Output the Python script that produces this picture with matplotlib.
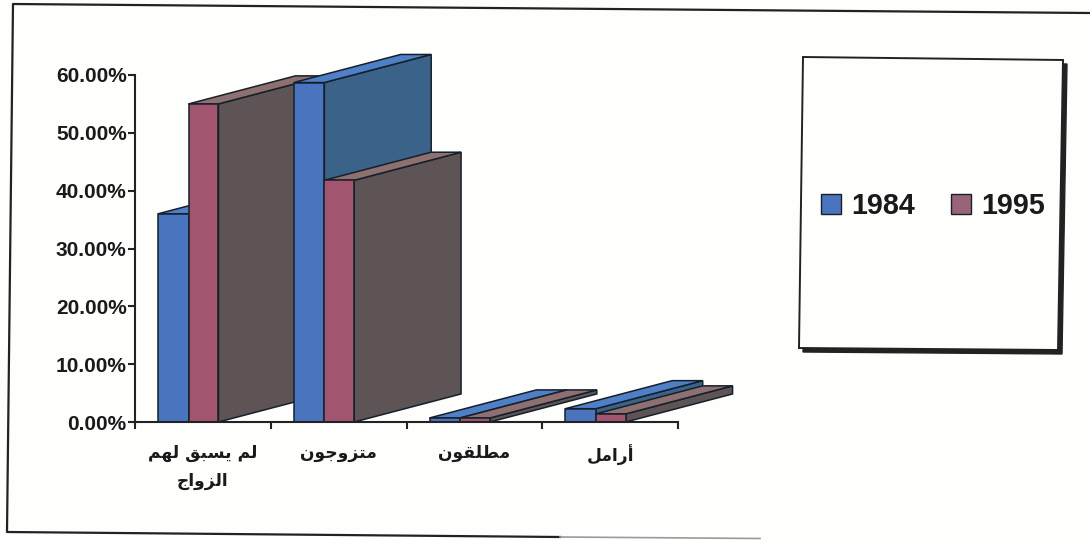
import matplotlib
matplotlib.use("Agg")
import matplotlib.pyplot as plt
from matplotlib.lines import Line2D
from matplotlib.patches import Patch, Polygon

categories = ["لم يسبق لهم\nالزواج", "متزوجون", "مطلقون", "أرامل"]
years = ["1984", "1995"]
values_1984 = [36.0, 58.7, 0.7, 2.3]
values_1995 = [55.0, 41.8, 0.7, 1.4]
y_ticks = [0, 10, 20, 30, 40, 50, 60]

W, H = 1090, 540

# (front, side, top) colours per series
colors_1984 = ("#4A74BE", "#3B6288", "#4F7FC6")
colors_1995 = ("#A2556F", "#5E5355", "#8E7070")

# isolated, final, initial, medial forms; matplotlib does no Arabic shaping
forms = {
    "ل": "\uFEDD\uFEDE\uFEDF\uFEE0", "م": "\uFEE1\uFEE2\uFEE3\uFEE4",
    "ي": "\uFEF1\uFEF2\uFEF3\uFEF4", "س": "\uFEB1\uFEB2\uFEB3\uFEB4",
    "ب": "\uFE8F\uFE90\uFE91\uFE92", "ق": "\uFED5\uFED6\uFED7\uFED8",
    "ه": "\uFEE9\uFEEA\uFEEB\uFEEC", "ج": "\uFE9D\uFE9E\uFE9F\uFEA0",
    "ت": "\uFE95\uFE96\uFE97\uFE98", "ن": "\uFEE5\uFEE6\uFEE7\uFEE8",
    "ط": "\uFEC1\uFEC2\uFEC3\uFEC4",
    "ز": "\uFEAF\uFEB0", "و": "\uFEED\uFEEE", "ا": "\uFE8D\uFE8E",
    "أ": "\uFE83\uFE84", "ر": "\uFEAD\uFEAE",
}


def shape_line(line):
    out = []
    for i, ch in enumerate(line):
        if ch not in forms:
            out.append(ch)
            continue
        before = i > 0 and line[i - 1] in forms and len(forms[line[i - 1]]) == 4
        after = i + 1 < len(line) and line[i + 1] in forms and len(forms[ch]) == 4
        idx = 3 if before and after else 1 if before else 2 if after else 0
        out.append(forms[ch][idx])
    return "".join(reversed(out))


def shape(text):
    return "\n".join(shape_line(s) for s in text.split("\n"))


def fig_xy(x, y):
    return x / W, 1 - y / H


def draw_bar(ax, x, width, value, cols):
    # depth of the fake 3D, in data units
    dx, dy = 0.787, 4.85
    side = [(x + width, 0), (x + width + dx, dy), (x + width + dx, value + dy), (x + width, value)]
    top = [(x, value), (x + dx, value + dy), (x + width + dx, value + dy), (x + width, value)]
    front = [(x, 0), (x, value), (x + width, value), (x + width, 0)]
    for pts, c in [(side, cols[1]), (top, cols[2]), (front, cols[0])]:
        ax.add_patch(Polygon(pts, closed=True, facecolor=c, edgecolor="#15202B",
                             linewidth=1.1, clip_on=False, zorder=3))


fig = plt.figure(figsize=(W / 100, H / 100), dpi=100, facecolor="#FEFEFD")

# outer frame, a bit skewed like the scan; bottom line fades out towards the right
frame = [(1090, 13), (13, 4), (7, 532), (560, 537)]
fx, fy = zip(*[fig_xy(*p) for p in frame])
fig.add_artist(Line2D(fx, fy, color="#222222", linewidth=1.6))
fade = [(560, 537), (760, 538.5)]
fx, fy = zip(*[fig_xy(*p) for p in fade])
fig.add_artist(Line2D(fx, fy, color="#9A9A9A", linewidth=1.2))

ax = fig.add_axes([135 / W, 1 - 422 / H, (678 - 135) / W, (422 - 75) / H])
ax.set_facecolor("none")
ax.set_xlim(0, 4)
ax.set_ylim(0, 60)

for i in range(len(categories)):
    draw_bar(ax, i + 0.17, 0.225, values_1984[i], colors_1984)
    draw_bar(ax, i + 0.395, 0.22, values_1995[i], colors_1995)

for s in ("top", "right"):
    ax.spines[s].set_visible(False)
for s in ("left", "bottom"):
    ax.spines[s].set_linewidth(1.5)
    ax.spines[s].set_color("#222222")
    ax.spines[s].set_zorder(4)

ax.set_yticks(y_ticks)
ax.set_yticklabels([f"{v:.2f}%" for v in y_ticks], family="Liberation Sans",
                   fontweight="bold", fontsize=15, color="#1A1A1A")
ax.tick_params(axis="y", length=5, width=1.5, pad=1, color="#222222")
ax.set_xticks(range(5))
ax.set_xticklabels([])
ax.tick_params(axis="x", which="major", length=5, width=1.5, color="#222222")
ax.set_xticks([i + 0.5 for i in range(4)], minor=True)
ax.set_xticklabels([shape(c) for c in categories], minor=True, family="DejaVu Sans",
                   fontweight="bold", fontsize=12.3, color="#1A1A1A", linespacing=1.7)
ax.tick_params(axis="x", which="minor", length=0, pad=16)

# legend box with its drop shadow
box = [(803, 57), (1063, 60), (1058, 350), (799, 348)]
shadow = [(x + 4, y + 4) for x, y in box]
fig.add_artist(Polygon([fig_xy(*p) for p in shadow], closed=True, facecolor="#222222",
                       edgecolor="#222222", transform=fig.transFigure))
fig.add_artist(Polygon([fig_xy(*p) for p in box], closed=True, facecolor="#FEFEFD",
                       edgecolor="#222222", linewidth=1.4, transform=fig.transFigure))

handles = [Patch(facecolor=colors_1984[0], edgecolor="#15202B", label=years[0]),
           Patch(facecolor="#9A6478", edgecolor="#15202B", label=years[1])]
leg = fig.legend(handles=handles, ncol=2, frameon=False, loc="center",
                 bbox_to_anchor=fig_xy(933, 206),
                 prop={"family": "Liberation Sans", "weight": "bold", "size": 20.7},
                 handlelength=0.7, handleheight=0.7, handletextpad=0.35, columnspacing=1.25)
for t in leg.get_texts():
    t.set_color("#1A1A1A")

fig.savefig("out.png", dpi=100, facecolor=fig.get_facecolor())
